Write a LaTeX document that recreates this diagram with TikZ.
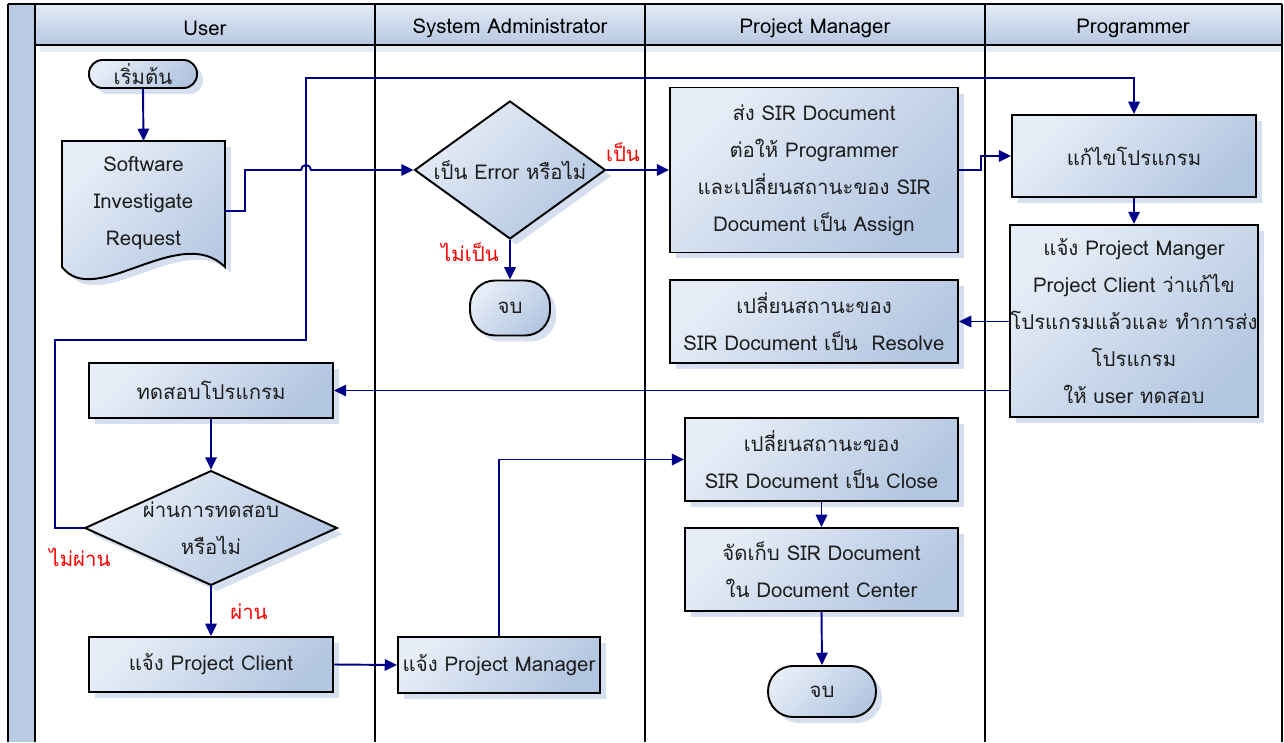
\documentclass[tikz,border=0pt]{standalone}
\usepackage{fontspec}
\setmainfont{Loma}[Script=Thai]
\usepackage{tikz}
\usetikzlibrary{arrows,arrows.meta,shapes,shadows,backgrounds}
\definecolor{boxlight}{HTML}{E6EDF7}
\definecolor{boxdark}{HTML}{B3C6E1}
\definecolor{shadeblue}{HTML}{D5DFEF}
\definecolor{headlight}{HTML}{E3EAF5}
\definecolor{headdark}{HTML}{B6C8E2}
\definecolor{stripblue}{HTML}{B9CAE3}
\definecolor{flowblue}{HTML}{000088}
\definecolor{inktext}{HTML}{1E1E1E}

\begin{document}
\begin{tikzpicture}[x=0.02cm, y=-0.02cm, font=\fontsize{11.6}{21}\selectfont,
box/.style={rectangle, draw, line width=1.1pt, top color=boxlight, bottom color=boxdark,
  shading angle=45, align=center, text=inktext, inner sep=0pt,
  drop shadow={shadow xshift=0.12cm, shadow yshift=-0.12cm, fill=shadeblue, opacity=1}},
decision/.style={box, diamond, inner sep=0pt},
term/.style={box, rounded corners=0.27cm},
flow/.style={draw=flowblue, line width=1.1pt, -{Triangle[length=7pt,width=6.5pt]}},
answer/.style={text=red},
lane/.style={line width=1.1pt},
  ]

  % swimlanes
  \fill[stripblue] (8,4) rectangle (35,742);
  \fill[shadeblue!60] (40,45) rectangle (1282,52);
  \shade[top color=headlight, bottom color=headdark] (35,4) rectangle (1282,45);
  \draw[lane] (8,4) -- (1282,4);
  \draw[lane] (35,45) -- (1282,45);
  \foreach \x in {8,35,375,645,985,1282}
    \draw[lane] (\x,4) -- (\x,742);
  \node (hUser) at (205,28) {User};
  \node (hAdmin) at (510,28) {System Administrator};
  \node (hManager) at (815,28) {Project Manager};
  \node (hProg) at (1133,28) {Programmer};

  % user
  \node[term, minimum width=2.16cm, minimum height=0.56cm] (start) at (143,74) {เริ่มต้น};
  \node[align=center, text=inktext, minimum width=3.26cm, minimum height=2.48cm, inner sep=0pt, outer sep=0pt] (sir) at (143.5,203)
    {Software\\Investigate\\Request};
  \node[box, minimum width=4.88cm, minimum height=1.1cm] (test) at (211,390.5) {ทดสอบโปรแกรม};
  \node[decision, aspect=2.2, minimum width=4.86cm, minimum height=2.2cm] (dec2) at (211,528) {ผ่านการทดสอบ\\หรือไม่};
  \node[box, minimum width=4.88cm, minimum height=1.1cm] (client) at (211,664.5) {แจ้ง Project Client};

  % system administrator
  \node[decision, aspect=1.38, minimum width=3.82cm, minimum height=2.76cm] (dec1) at (510,170) {เป็น Error หรือไม่};
  \node[term, minimum width=1.6cm, minimum height=1.1cm, rounded corners=0.5cm] (end1) at (510,308) {จบ};
  \node[box, minimum width=4.04cm, minimum height=1.12cm] (pmnote) at (499,665) {แจ้ง Project Manager};

  % project manager
  \node[box, minimum width=5.76cm, minimum height=3.3cm] (assign) at (814,170)
    {ส่ง SIR Document\\ต่อให้ Programmer\\และเปลี่ยนสถานะของ SIR\\Document เป็น Assign};
  \node[box, minimum width=5.76cm, minimum height=1.66cm] (resolve) at (814,321.5)
    {เปลี่ยนสถานะของ\\SIR Document เป็น\ \ Resolve};
  \node[box, minimum width=5.46cm, minimum height=1.66cm] (close) at (821.5,459.5)
    {เปลี่ยนสถานะของ\\SIR Document เป็น Close};
  \node[box, minimum width=5.46cm, minimum height=1.66cm] (store) at (821.5,569.5)
    {จัดเก็บ SIR Document\\ใน Document Center};
  \node[term, minimum width=2.16cm, minimum height=1.02cm, rounded corners=0.5cm] (end2) at (822,691.5) {จบ};

  % programmer
  \node[box, minimum width=4.88cm, minimum height=1.64cm] (fix) at (1134,156) {แก้ไขโปรแกรม};
  \node[box, minimum width=4.88cm, minimum height=3.84cm] (notify) at (1134,321)
    {แจ้ง Project Manger\\Project Client ว่าแก้ไข\\โปรแกรมแล้วและ ทำการส่ง\\โปรแกรม\\ให้ user ทดสอบ};

  \begin{scope}[on background layer]
    \path[box] (sir.north west) -- (sir.north east) -- ([yshift=-0.04cm]sir.south east)
      .. controls +(-45,-45) and +(33,43) .. ([yshift=-0.04cm]sir.south west) -- cycle;
  \end{scope}

  % answers
  \node[answer] (yes1) at (623,152) {เป็น};
  \node[answer] (no1) at (470,252) {ไม่เป็น};
  \node[answer] (no2) at (80,557) {ไม่ผ่าน};
  \node[answer] (yes2) at (249,612) {ผ่าน};

  % connectors
  \draw[flow] (start.south) -- (sir.north);
  \draw[flow] ([yshift=-0.16cm]sir.east) -- ++(20,0) |- (301,170)
    arc[start angle=180, end angle=0, radius=0.1cm] -- (dec1.west);
  \draw[flow] (dec1.east) -- (assign.west);
  \draw[flow] (dec1.south) -- (end1.north);
  \draw[flow] (assign.east) -- ++(22,0) |- (fix.west);
  \draw[flow] (dec2.west) -| (55,340) -| (306,78) -| (fix.north);
  \draw[flow] (fix.south) -- (notify.north);
  \draw[flow] (notify.west |- resolve.east) -- (resolve.east);
  \draw[flow] (notify.west |- test.east) -- (test.east);
  \draw[flow] (test.south) -- (dec2.north);
  \draw[flow] (dec2.south) -- (client.north);
  \draw[flow] (client.east) -- (pmnote.west);
  \draw[flow] (pmnote.north) |- (close.west);
  \draw[flow] (close.south) -- (store.north);
  \draw[flow] (store.south) -- (end2.north);

  \useasboundingbox (0,0) rectangle (1284,742);
\end{tikzpicture}
\end{document}
